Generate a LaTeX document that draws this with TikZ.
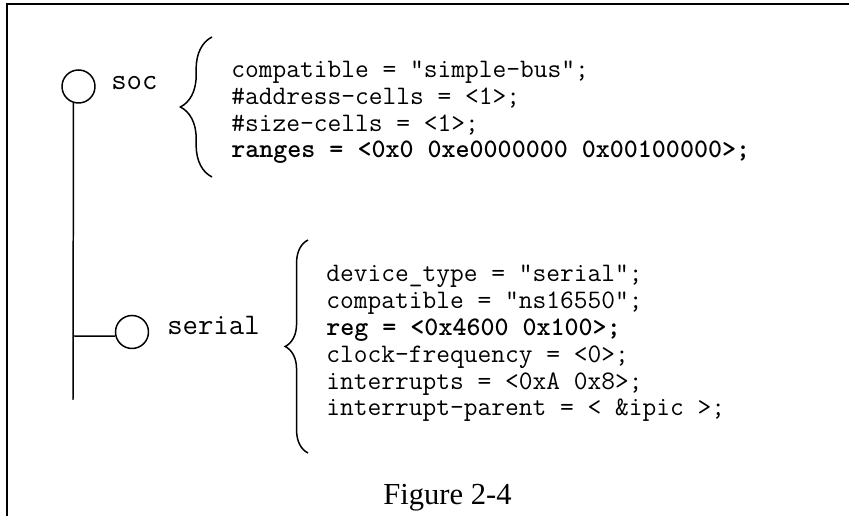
\documentclass[tikz,border=0pt]{standalone}
\usepackage{fontspec}
\setmainfont{Liberation Serif}
\usetikzlibrary{positioning,decorations.pathreplacing}

\tikzset{
    devnode/.style={circle, draw, line width=0.85pt, minimum size=0.66cm, inner sep=0pt},
    nodename/.style={font=\fontsize{17}{20}\selectfont\ttfamily, inner sep=0pt, anchor=base west},
    proplist/.style={font=\fontsize{15.2}{15.3}\selectfont\ttfamily, align=left, inner sep=0pt, anchor=base west},
    propbrace/.style={line width=0.85pt, decorate, decoration={brace, amplitude=#1}}
}

\begin{document}
\begin{tikzpicture}[x=0.02cm, y=-0.02cm]
    \useasboundingbox (0,0) rectangle (849,516);
    % Cadre
    \draw[line width=1.1pt] (7,516) -- (7,4) -- (849,4);

    % Noeuds de l'arbre
    \node[devnode] (soc) at (78.5,86.5) {};
    \node[devnode] (serial) at (132,332) {};
    \coordinate (trunk-end) at (73,400);
    \coordinate (branch) at (73,336);
    \draw[line width=0.85pt] (soc.-107) -- (trunk-end);
    \draw[line width=0.85pt] (branch) -- (serial.194);

    % Noms
    \node[nodename] (soc-name) at (111,90) {soc};
    \node[nodename] (serial-name) at (167,335) {serial};

    % Proprietes soc (ancre : ligne de base de la derniere ligne)
    \draw[propbrace=18pt] (212,177) -- (212,37);
    \node[proplist] (soc-props) at (231,158) {compatible = "simple-bus";\\
        \#address-cells = <1>;\\
        \#size-cells = <1>;\\
        \textbf{ranges = <0x0 0xe0000000 0x00100000>;}};

    % Proprietes serial
    \draw[propbrace=13pt] (308,453) -- (308,240);
    \node[proplist] (serial-props) at (326,416) {device\_type = "serial";\\
        compatible = "ns16550";\\
        \textbf{reg = <0x4600 0x100>;}\\
        clock-frequency = <0>;\\
        interrupts = <0xA 0x8>;\\
        interrupt-parent = < \&ipic >;};

    % Legende
    \node[font=\fontsize{17.4}{20}\selectfont, inner sep=0pt, anchor=base] (caption) at (447.5,505) {Figure 2-4};
\end{tikzpicture}
\end{document}
